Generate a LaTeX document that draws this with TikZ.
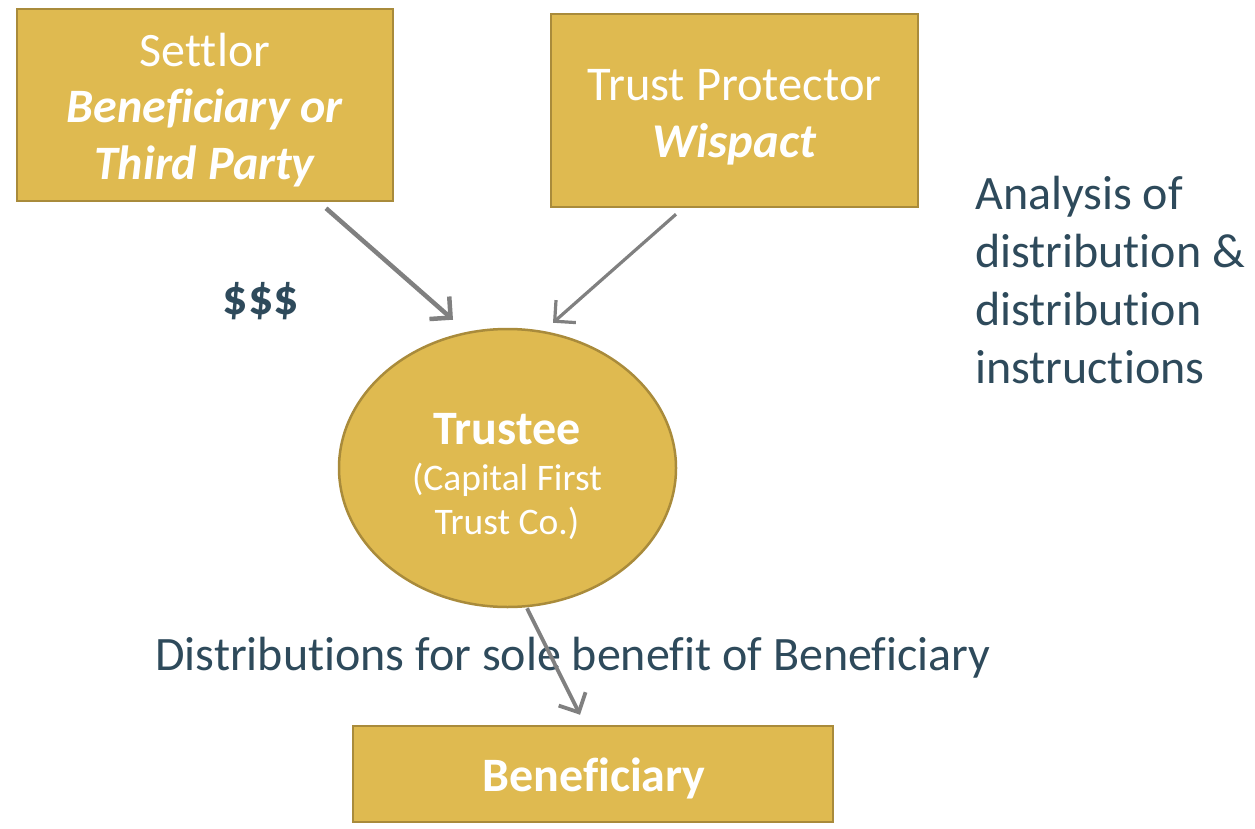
\documentclass[tikz,border=0pt]{standalone}
\usepackage{fontspec}
\setmainfont{Carlito}[RawFeature={-liga;-dlig;-clig;-calt}]
\usetikzlibrary{shapes.geometric,arrows.meta}
\definecolor{goldfill}{HTML}{DFBA50}
\definecolor{goldline}{HTML}{A98B3B}
\definecolor{slate}{HTML}{2E4A5B}
\definecolor{arrowgray}{HTML}{808080}
\tikzset{
  role/.style={draw=goldline, line width=2.5pt, fill=goldfill, text=white,
    align=center, inner sep=0pt},
  flow/.style={draw=arrowgray, line width=3.8pt,
    -{Straight Barb[length=15pt,width=30pt]}},
  caption/.style={text=slate, inner sep=0pt},
}
\begin{document}
\begin{tikzpicture}[x=1pt,y=-1pt]
\useasboundingbox (0,0) rectangle (1255,829);

% parties
\node[role, minimum width=376pt, minimum height=192pt] (settlor) at (205,105) {};
\node[text=white, align=center, inner sep=0pt,
      font=\fontsize{48}{56.5}\selectfont] (settlortext) at (205,110)
  {Settlor\\\textbf{\textit{Beneficiary or}}\\\textbf{\textit{Third Party}}};
\node[role, minimum width=367pt, minimum height=193pt] (protector) at (734.5,110.5) {};
\node[text=white, align=center, inner sep=0pt,
      font=\fontsize{48.5}{57}\selectfont] (protectortext) at (734.5,117.5)
  {Trust Protector\\\textbf{\textit{Wispact}}};

% trustee
\node[role, ellipse, minimum width=337pt, minimum height=278pt] (trustee) at (507.5,468) {};
\node[text=white, inner sep=0pt, font=\fontsize{48}{56}\selectfont\bfseries] (trusteename) at (507,429) {Trustee};
\node[text=white, inner sep=0pt, font=\fontsize{37.5}{44}\selectfont, align=center] (trusteeco) at (507,501) {(Capital First\\Trust Co.)};

% beneficiary
\node[role, minimum width=480pt, minimum height=96pt] (beneficiary) at (593,774) {};
\node[text=white, inner sep=0pt, font=\fontsize{48}{56}\selectfont\bfseries] (beneficiarytext) at (594,778) {Beneficiary};

% captions
\node[caption, font=\fontsize{50}{56}\selectfont\bfseries] (money) at (261,301) {\$\$\$};
\node[caption, anchor=west, align=left, font=\fontsize{48}{58}\selectfont] (analysis) at (975,280)
  {Analysis of\\distribution \&\\distribution\\instructions};
\node[caption, font=\fontsize{48}{56}\selectfont] (distlabel) at (573,658)
  {Distributions for sole benefit of Beneficiary};

% flows
\draw[flow, line width=4.5pt] ([xshift=121pt,yshift=-6pt]settlor.south) -- ([xshift=-54.5pt,yshift=8pt]trustee.north);
\draw[flow, line width=3.2pt] ([xshift=-58.5pt,yshift=-6pt]protector.south) -- ([xshift=45.5pt,yshift=5pt]trustee.north);
\draw[flow] ([xshift=19.5pt]trustee.south) -- ([xshift=-13pt,yshift=10pt]beneficiary.north);
\end{tikzpicture}
\end{document}
